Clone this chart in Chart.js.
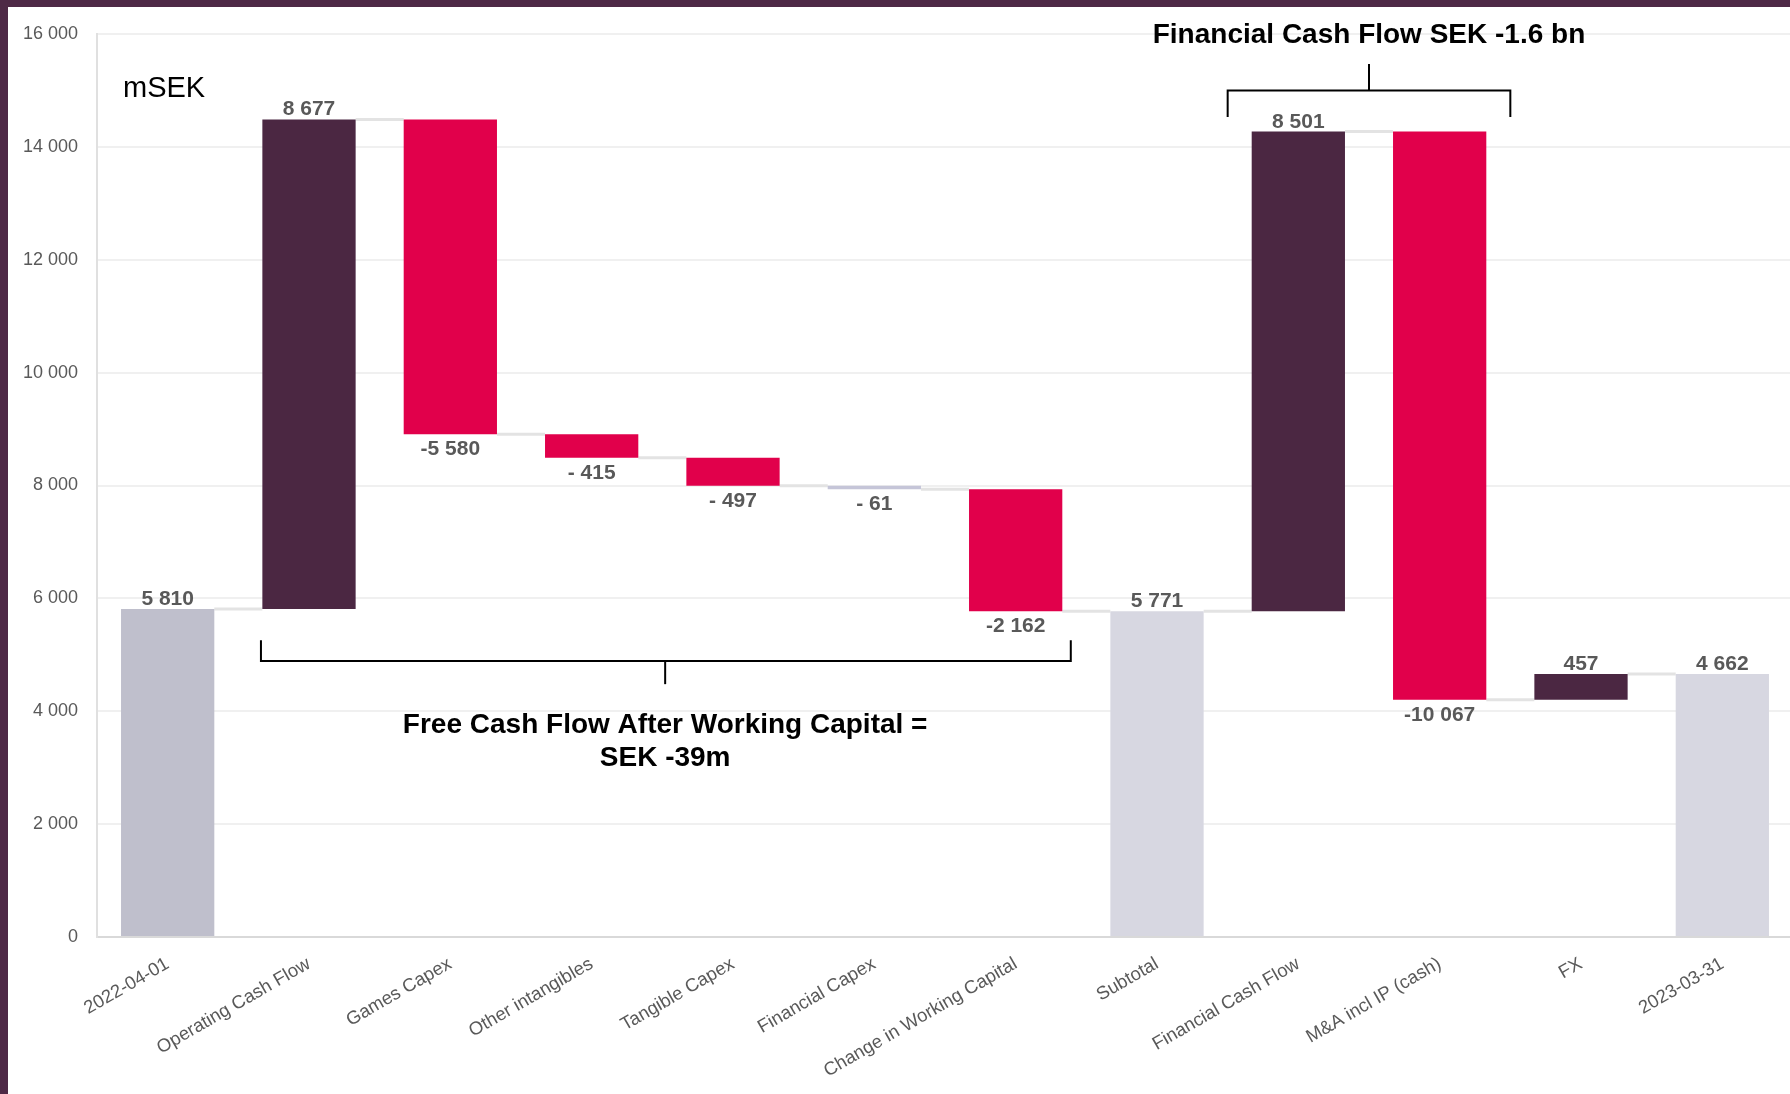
<!DOCTYPE html>
<html>
<head>
<meta charset="utf-8">
<title>Cash flow bridge</title>
<script src="https://cdn.jsdelivr.net/npm/chart.js@4.4.1/dist/chart.umd.min.js"></script>
<style>
  html, body { margin: 0; padding: 0; overflow: hidden; background: #4e2946; }
  #wrap { position: absolute; left: 8px; top: 7px; width: 1800px; height: 1087px; background: #fff; }
</style>
</head>
<body>
<div id="wrap"><canvas id="chart" width="1800" height="1087"></canvas></div>
<script>
const CATEGORIES = [
  '2022-04-01', 'Operating Cash Flow', 'Games Capex', 'Other intangibles',
  'Tangible Capex', 'Financial Capex', 'Change in Working Capital', 'Subtotal',
  'Financial Cash Flow', 'M&A incl IP (cash)', 'FX', '2023-03-31',
];
const VALUES = [5810, 8677, -5580, -415, -497, -61, -2162, 5771, 8501, -10067, 457, 4662];
// open / sub / close stand on zero, the others are steps from the running total
const KINDS = ['open', 'up', 'down', 'down', 'down', 'minor', 'down', 'sub', 'up', 'down', 'up', 'close'];
const Y_TICKS = [0, 2000, 4000, 6000, 8000, 10000, 12000, 14000, 16000];

const UNIT_TEXT = 'mSEK';
const FIN_TEXT = 'Financial Cash Flow SEK -1.6 bn';
const FCF_TEXT = ['Free Cash Flow After Working Capital =', 'SEK -39m'];

const COLORS = {
  open: '#bfbfcc', sub: '#d7d7e1', close: '#d7d7e1',
  up: '#4b2742', down: '#e1004b', minor: '#c5c5d8',
};
const FONT = "'Liberation Sans', Arial, sans-serif";

const isLevel = k => k === 'open' || k === 'sub' || k === 'close';

let run = 0;
const spans = VALUES.map((v, i) => {
  if (isLevel(KINDS[i])) { run = v; return [0, v]; }
  const from = run;
  run += v;
  return [from, run];
});
// level where the connector leaves each bar
const ends = spans.map(s => s[1]);

// excel style "# ##0": small negatives keep the blank group separator
function fmt(v) {
  const s = Math.abs(v).toString().replace(/\B(?=(\d{3})+(?!\d))/g, ' ');
  if (v >= 0) return s;
  return (Math.abs(v) < 1000 ? '- ' : '-') + s;
}

function line(ctx, pts) {
  ctx.beginPath();
  ctx.moveTo(pts[0][0], pts[0][1]);
  for (const p of pts.slice(1)) ctx.lineTo(p[0], p[1]);
  ctx.stroke();
}

const bridgePlugin = {
  id: 'bridge',
  beforeDatasetsDraw(chart) {
    const { ctx, scales: { y } } = chart;
    const bars = chart.getDatasetMeta(0).data;
    ctx.save();
    ctx.strokeStyle = '#e3e3e3';
    ctx.lineWidth = 3;
    for (let i = 0; i < bars.length - 1; i++) {
      const yy = y.getPixelForValue(ends[i]);
      line(ctx, [[bars[i].x + bars[i].width / 2, yy], [bars[i + 1].x - bars[i + 1].width / 2, yy]]);
    }
    ctx.restore();
  },
  afterDatasetsDraw(chart) {
    const { ctx, chartArea, scales: { x, y } } = chart;
    const bars = chart.getDatasetMeta(0).data;
    ctx.save();

    // value labels
    ctx.font = 'bold 21px ' + FONT;
    ctx.fillStyle = '#595959';
    ctx.textAlign = 'center';
    ctx.textBaseline = 'alphabetic';
    bars.forEach((bar, i) => {
      const v = VALUES[i];
      if (v >= 0) {
        ctx.fillText(fmt(v), bar.x, y.getPixelForValue(Math.max(...spans[i])) - 4);
      } else {
        ctx.fillText(fmt(v), bar.x, y.getPixelForValue(Math.min(...spans[i])) + 21);
      }
    });

    // unit
    ctx.fillStyle = '#000';
    ctx.textAlign = 'left';
    ctx.font = '29px ' + FONT;
    ctx.fillText(UNIT_TEXT, chartArea.left + 26, y.getPixelForValue(14880));

    // brackets
    ctx.strokeStyle = '#000';
    ctx.lineWidth = 2;
    const px = x.getPixelForValue.bind(x);
    const py = y.getPixelForValue.bind(y);
    line(ctx, [[px(0.66), py(5260)], [px(0.66), py(4890)], [px(6.39), py(4890)], [px(6.39), py(5260)]]);
    line(ctx, [[px(3.52), py(4890)], [px(3.52), py(4480)]]);
    line(ctx, [[px(7.5), py(14530)], [px(7.5), py(15000)], [px(9.5), py(15000)], [px(9.5), py(14530)]]);
    line(ctx, [[px(8.5), py(15000)], [px(8.5), py(15470)]]);

    ctx.font = 'bold 28px ' + FONT;
    ctx.textAlign = 'center';
    ctx.fillText(FIN_TEXT, px(8.5), py(15840));
    ctx.fillText(FCF_TEXT[0], px(3.52), py(3616));
    ctx.fillText(FCF_TEXT[1], px(3.52), py(3032));
    ctx.restore();
  },
};

Chart.defaults.font.family = FONT;
Chart.defaults.color = '#595959';

new Chart(document.getElementById('chart'), {
  type: 'bar',
  data: {
    labels: CATEGORIES,
    datasets: [{
      data: spans,
      backgroundColor: KINDS.map(k => COLORS[k]),
      borderWidth: 0,
      barPercentage: 0.66,
      categoryPercentage: 1.0,
    }],
  },
  plugins: [bridgePlugin],
  options: {
    responsive: false,
    animation: false,
    devicePixelRatio: 1,
    layout: { padding: { top: 27, right: 15, bottom: 0, left: 0 } },
    plugins: { legend: { display: false }, tooltip: { enabled: false } },
    scales: {
      x: {
        grid: { display: false },
        border: { color: '#d9d9d9', width: 2 },
        ticks: { autoSkip: false, minRotation: 30, maxRotation: 30, padding: 8, font: { size: 18.5 } },
        afterFit(scale) { scale.height = 157; },
      },
      y: {
        min: 0,
        max: 16000,
        grid: { color: '#f0f0f0', lineWidth: 2, drawTicks: false },
        border: { color: '#e0e0e0', width: 2 },
        ticks: { padding: 19, font: { size: 18 }, callback: v => fmt(v) },
        afterBuildTicks(scale) { scale.ticks = Y_TICKS.map(v => ({ value: v })); },
        afterFit(scale) {
          scale.width = 89;
          scale.paddingTop = 0;
          scale.paddingBottom = 0;
        },
      },
    },
  },
});
</script>
</body>
</html>
